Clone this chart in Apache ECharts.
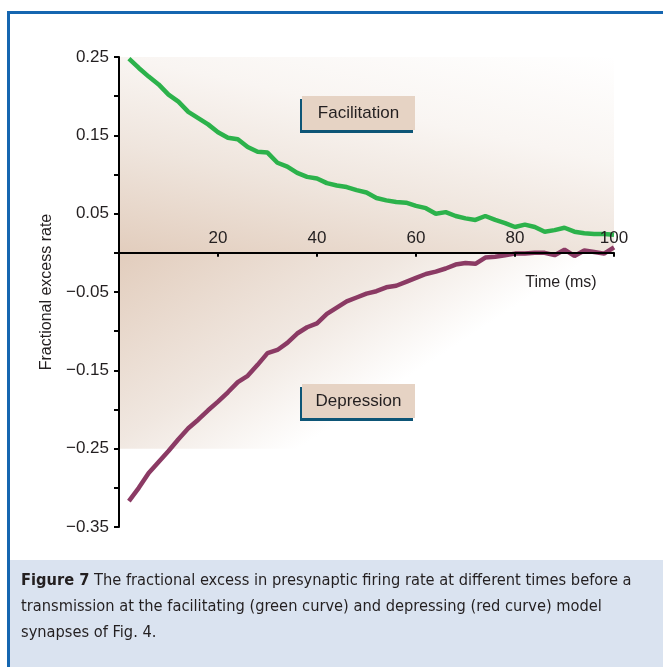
<!DOCTYPE html>
<html>
<head>
<meta charset="utf-8">
<script src="https://cdn.jsdelivr.net/npm/echarts@6/dist/echarts.min.js"></script>
<style>
html,body{margin:0;padding:0;background:#fff;}
#chart{width:663px;height:667px;}
</style>
</head>
<body>
<div id="chart"></div>
<script>
// Time (ms)
var times = [2,4,6,8,10,12,14,16,18,20,22,24,26,28,30,32,34,36,38,40,42,44,46,48,50,52,54,56,58,60,62,64,66,68,70,72,74,76,78,80,82,84,86,88,90,92,94,96,98,100];
// Facilitating synapse (green)
var facilitation = [0.248,0.236,0.225,0.215,0.202,0.193,0.180,0.172,0.164,0.154,0.147,0.145,0.135,0.129,0.128,0.115,0.110,0.102,0.097,0.095,0.089,0.086,0.084,0.080,0.077,0.070,0.067,0.065,0.064,0.060,0.057,0.050,0.052,0.047,0.044,0.042,0.047,0.042,0.038,0.033,0.036,0.033,0.027,0.029,0.032,0.027,0.025,0.024,0.024,0.023];
// Depressing synapse (red)
var depression = [-0.317,-0.300,-0.281,-0.267,-0.253,-0.238,-0.224,-0.213,-0.201,-0.190,-0.178,-0.165,-0.157,-0.143,-0.128,-0.124,-0.115,-0.103,-0.095,-0.090,-0.078,-0.070,-0.062,-0.057,-0.052,-0.049,-0.044,-0.042,-0.037,-0.032,-0.027,-0.024,-0.020,-0.015,-0.013,-0.014,-0.006,-0.005,-0.003,-0.001,-0.001,0.000,0.000,-0.003,0.004,-0.004,0.003,0.001,-0.001,0.007];
var xTicks = [20,40,60,80,100];
var yTickLabels = [0.25,0.15,0.05,-0.05,-0.15,-0.25,-0.35];
var xName = 'Time (ms)';
var yName = 'Fractional excess rate';
var labelTop = 'Facilitation';
var labelBottom = 'Depression';
var captionLines = [
  '{b|Figure 7} The fractional excess in presynaptic firing rate at different times before a',
  'transmission at the facilitating (green curve) and depressing (red curve) model',
  'synapses of Fig. 4.'
];

var FONT = '"Liberation Sans", Arial, Helvetica, sans-serif';
var CFONT = '"DejaVu Sans Condensed", "Liberation Sans Narrow", sans-serif';
var chart = echarts.init(document.getElementById('chart'), null, {renderer:'canvas'});

function pairs(xs, ys){ return xs.map(function(x,i){ return [x, ys[i]]; }); }

function boxLabel(text, x, y){
  return {
    type:'group', left:x, top:y, z:200,
    children:[
      {type:'rect', z:200, shape:{x:-2, y:3, width:113, height:34}, style:{fill:'#0d5576'}},
      {type:'rect', z:201, shape:{x:0, y:0, width:113, height:34}, style:{fill:'#e6d3c4'}},
      {type:'text', z:202, style:{x:56.5, y:17, text:text, textAlign:'center', textVerticalAlign:'middle', font:'17px ' + FONT, fill:'#231f20'}}
    ]
  };
}

var option = {
  backgroundColor:'#ffffff',
  animation:false,
  grid:{left:119, top:57, right:49, bottom:140, containLabel:false},
  xAxis:{
    type:'value', min:0, max:100, interval:20,
    position:'bottom', offset:-274.2,
    axisLine:{onZero:false, lineStyle:{color:'#000', width:2}},
    axisTick:{show:true, length:4, inside:false, lineStyle:{color:'#000', width:2}},
    axisLabel:{inside:true, margin:6, fontSize:17, color:'#231f20', fontFamily:FONT,
      formatter:function(v){ return xTicks.indexOf(Math.round(v))>=0 ? String(Math.round(v)) : ''; }},
    splitLine:{show:false},
    z:10
  },
  yAxis:{
    type:'value', min:-0.35, max:0.25, interval:0.05,
    name:yName, nameLocation:'middle', nameRotate:90, nameGap:54,
    nameTextStyle:{fontSize:16, color:'#231f20', fontFamily:FONT},
    axisLine:{show:true, onZero:false, lineStyle:{color:'#000', width:2}},
    axisTick:{show:true, length:5, lineStyle:{color:'#000', width:2}},
    axisLabel:{margin:10, fontSize:17, color:'#231f20', fontFamily:FONT,
      formatter:function(v){
        var r = Math.round(v*100)/100;
        for (var i=0;i<yTickLabels.length;i++){
          if (Math.abs(yTickLabels[i]-r)<1e-6) return r.toFixed(2).replace('-', '\u2212');
        }
        return '';
      }},
    splitLine:{show:false},
    z:10
  },
  series:[
    {
      type:'line', name:'Facilitation', data:pairs(times, facilitation),
      symbol:'none', clip:false, z:5,
      lineStyle:{color:'#2cb24b', width:4.5},
      markArea:{
        silent:true, z:1,
        data:[
          [{xAxis:0, yAxis:0, itemStyle:{color:{type:'linear', x:0, y:1, x2:0.126, y2:-0.48,
              colorStops:[{offset:0,color:'#e2cdbd'},{offset:0.36,color:'#efe5dd'},{offset:0.65,color:'#f9f5f2'},{offset:1,color:'#ffffff'}]}}},
           {xAxis:100, yAxis:0.25}],
          [{xAxis:0, yAxis:0, itemStyle:{color:{type:'linear', x:0, y:0, x2:0.29, y2:1.12,
              colorStops:[{offset:0,color:'#e2cdbd'},{offset:0.6,color:'#f0e7e0'},{offset:1,color:'#ffffff'}]}}},
           {xAxis:100, yAxis:-0.25}]
        ]
      }
    },
    {
      type:'line', name:'Depression', data:pairs(times, depression),
      symbol:'none', clip:false, z:6,
      lineStyle:{color:'#8b3a64', width:4.5}
    }
  ],
  graphic:[
    {type:'rect', z:-10, shape:{x:9, y:560, width:660, height:110}, style:{fill:'#dae3f0'}},
    {type:'rect', z:300, shape:{x:8.5, y:12.5, width:700, height:700}, style:{fill:'none', stroke:'#1566b0', lineWidth:3}},
    boxLabel(labelTop, 300, 96),
    boxLabel(labelBottom, 300, 384),
    {type:'text', z:200, style:{x:561, y:283, text:xName, textAlign:'center', textVerticalAlign:'middle', font:'16px ' + FONT, fill:'#231f20'}},
    {type:'text', z:200, style:{x:21, y:581, text:captionLines[0], textVerticalAlign:'middle', font:'16.3px ' + CFONT, fill:'#231f20',
      rich:{b:{fontWeight:'bold', fontSize:16.3, fontFamily:CFONT, fill:'#231f20'}}}},
    {type:'text', z:200, style:{x:21, y:607, text:captionLines[1], textVerticalAlign:'middle', font:'16.3px ' + CFONT, fill:'#231f20'}},
    {type:'text', z:200, style:{x:21, y:633, text:captionLines[2], textVerticalAlign:'middle', font:'16.3px ' + CFONT, fill:'#231f20'}}
  ]
};
chart.setOption(option);
</script>
</body>
</html>
